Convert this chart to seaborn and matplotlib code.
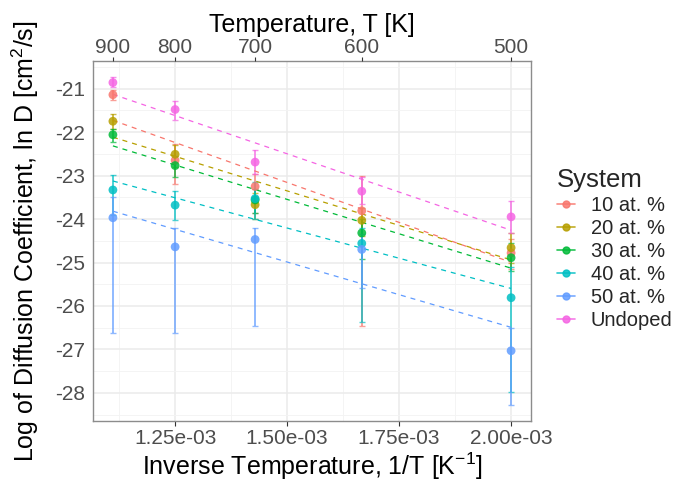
import matplotlib
matplotlib.use("Agg")
import matplotlib.pyplot as plt
from matplotlib.lines import Line2D
from matplotlib.ticker import FuncFormatter, MultipleLocator
import seaborn as sns
import pandas as pd

# Temperaturas de medida y sistemas
temperatures = [900, 800, 700, 600, 500]
systems = ["10 at. %", "20 at. %", "30 at. %", "40 at. %", "50 at. %", "Undoped"]
colours = ["#F8766D", "#B79F00", "#00BA38", "#00BFC4", "#619CFF", "#F564E3"]

# ln D por sistema (orden: 900, 800, 700, 600, 500 K)
ln_d_10 = [-21.14, -22.65, -23.25, -23.81, -24.78]
ln_d_20 = [-21.75, -22.51, -23.67, -24.03, -24.66]
ln_d_30 = [-22.06, -22.77, -23.56, -24.32, -24.89]
ln_d_40 = [-23.33, -23.68, -23.53, -24.56, -25.81]
ln_d_50 = [-23.97, -24.64, -24.47, -24.70, -27.03]
ln_d_und = [-20.86, -21.48, -22.69, -23.36, -23.95]

# Extremos de las barras de error
lo_10 = [-21.26, -23.19, -23.86, -26.46, -25.15]
hi_10 = [-21.03, -22.28, -22.96, -23.00, -24.45]
lo_20 = [-21.92, -22.80, -23.99, -24.40, -25.00]
hi_20 = [-21.58, -22.30, -23.40, -23.75, -24.33]
lo_30 = [-22.22, -23.03, -23.86, -24.91, -25.20]
hi_30 = [-21.92, -22.55, -23.30, -24.00, -24.55]
lo_40 = [-23.90, -24.03, -24.00, -26.38, -27.99]
hi_40 = [-22.98, -23.35, -23.15, -24.20, -25.10]
lo_50 = [-26.62, -26.62, -26.47, -25.59, -28.27]
hi_50 = [-23.50, -24.20, -24.20, -24.35, -26.50]
lo_und = [-20.97, -21.72, -22.96, -23.65, -24.33]
hi_und = [-20.74, -21.29, -22.42, -23.03, -23.58]

valores = [ln_d_10, ln_d_20, ln_d_30, ln_d_40, ln_d_50, ln_d_und]
inferiores = [lo_10, lo_20, lo_30, lo_40, lo_50, lo_und]
superiores = [hi_10, hi_20, hi_30, hi_40, hi_50, hi_und]

filas = []
for sistema, vals, los, his in zip(systems, valores, inferiores, superiores):
    for t, v, lo, hi in zip(temperatures, vals, los, his):
        filas.append({"system": sistema, "inv_t": 1.0 / t, "ln_d": v, "lo": lo, "hi": hi})
df = pd.DataFrame(filas)

sns.set_theme(style="whitegrid")
plt.rcParams["font.family"] = ["Liberation Sans", "DejaVu Sans"]
plt.rcParams["mathtext.fontset"] = "custom"
plt.rcParams["mathtext.rm"] = "Liberation Sans"
plt.rcParams["axes.unicode_minus"] = False

fig = plt.figure(figsize=(6.86, 4.84), dpi=100)
ax = fig.add_axes([93 / 686, 1 - 421 / 484, (531 - 93) / 686, (421 - 61) / 484])

for i, sistema in enumerate(systems):
    sub = df[df["system"] == sistema]
    ax.errorbar(sub["inv_t"], sub["ln_d"],
                yerr=[sub["ln_d"] - sub["lo"], sub["hi"] - sub["ln_d"]],
                fmt="none", ecolor=colours[i], elinewidth=1.4, capsize=2,
                capthick=1.0, alpha=0.7, zorder=2)

sns.scatterplot(data=df, x="inv_t", y="ln_d", hue="system", palette=colours,
                s=40, alpha=0.85, edgecolor="none", legend=False, ax=ax, zorder=3)

for i, sistema in enumerate(systems):
    sub = df[df["system"] == sistema]
    sns.regplot(data=sub, x="inv_t", y="ln_d", scatter=False, ci=None, truncate=True,
                color=colours[i], line_kws=dict(lw=0.9, ls=(0, (4, 4))), ax=ax)

# Límites con expansión del 5% (estilo ggplot)
x_min, x_max = df["inv_t"].min(), df["inv_t"].max()
y_min, y_max = df["lo"].min(), df["hi"].max()
ax.set_xlim(x_min - 0.05 * (x_max - x_min), x_max + 0.05 * (x_max - x_min))
ax.set_ylim(y_min - 0.05 * (y_max - y_min), y_max + 0.05 * (y_max - y_min))

ax.xaxis.set_major_locator(MultipleLocator(0.25e-3))
ax.xaxis.set_minor_locator(MultipleLocator(0.125e-3))
ax.yaxis.set_major_locator(MultipleLocator(1))
ax.yaxis.set_minor_locator(MultipleLocator(0.5))
ax.xaxis.set_major_formatter(FuncFormatter(lambda v, p: f"{v:.2e}"))
ax.yaxis.set_major_formatter(FuncFormatter(lambda v, p: f"{v:.0f}"))

ax.grid(which="major", color="#EBEBEB", lw=1.1)
ax.grid(which="minor", color="#F3F3F3", lw=0.6)
ax.set_axisbelow(True)
ax.tick_params(which="major", length=3.5, width=0.8, color="#333333",
               labelcolor="#4D4D4D", labelsize=15, pad=2)
ax.tick_params(which="minor", length=0)
for sp in ax.spines.values():
    sp.set_color("#8C8C8C")
    sp.set_linewidth(1.0)

ax.set_xlabel(r"Inverse Temperature, 1/T [K$^{-1}$]", fontsize=18, color="black", labelpad=2)
ax.set_ylabel(r"Log of Diffusion Coefficient, ln D [cm$^{2}$/s]", fontsize=18,
              color="black", labelpad=10)

# Eje superior en temperatura
ax2 = ax.twiny()
ax2.set_xlim(ax.get_xlim())
ax2.set_xticks([1.0 / t for t in temperatures])
ax2.set_xticklabels([str(t) for t in temperatures])
ax2.grid(False)
ax2.tick_params(axis="x", length=3, width=0.8, color="#333333",
                labelcolor="#4D4D4D", labelsize=15, pad=0)
for sp in ax2.spines.values():
    sp.set_visible(False)
ax2.set_xlabel("Temperature, T [K]", fontsize=18, color="black", labelpad=4)

handles = [Line2D([0], [0], color=c, lw=1.2, marker="o", markersize=5, alpha=0.85)
           for c in colours]
fig.legend(handles, systems, title="System", loc="center left",
           bbox_to_anchor=(0.788, 0.485), frameon=False, fontsize=14.5,
           title_fontsize=18.5, handlelength=0.9, handletextpad=0.8,
           labelspacing=0.2, alignment="left", borderpad=0.3)

fig.savefig("out.png", dpi=100)
